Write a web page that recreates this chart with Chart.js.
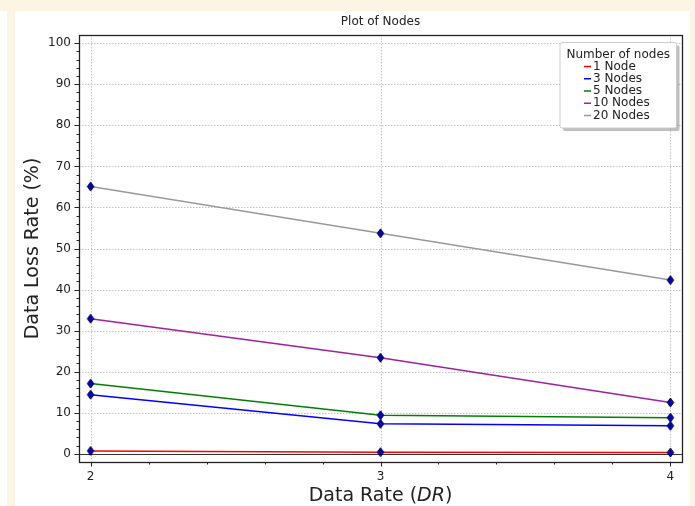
<!DOCTYPE html>
<html><head><meta charset="utf-8">
<script src="https://cdn.jsdelivr.net/npm/chart.js@4.4.0/dist/chart.umd.min.js"></script>
<style>
html,body{margin:0;padding:0;width:695px;height:506px;overflow:hidden;background:#fdf5e4;}
#panel{position:absolute;left:15px;top:11px;width:675px;height:495px;background:#fff;}
#strip{position:absolute;left:0;top:11px;width:7px;height:495px;background:#fff;}
#wrap{position:absolute;left:0;top:0;width:695px;height:506px;}
</style></head><body>
<div id="strip"></div><div id="panel"></div>
<div id="wrap"><canvas id="c" width="695" height="506"></canvas></div>
<script>
// ---- data ----
const dataRates = [2, 3, 4];
const seriesNames = ['1 Node', '3 Nodes', '5 Nodes', '10 Nodes', '20 Nodes'];
const node1  = [0.7, 0.4, 0.3];
const node3  = [14.4, 7.3, 6.8];
const node5  = [17.1, 9.4, 8.8];
const node10 = [32.9, 23.4, 12.5];
const node20 = [65.1, 53.7, 42.3];
const yTickLabels = [0, 10, 20, 30, 40, 50, 60, 70, 80, 90, 100];
const xTickLabels = [2, 3, 4];
const titleText = 'Plot of Nodes';
const legendTitle = 'Number of nodes';
const yAxisTitle = 'Data Loss Rate (%)';

const seriesValues = [node1, node3, node5, node10, node20];
const seriesColors = ['#ff0000', '#0000ff', '#008000', '#a020a0', '#999999'];

// diamond marker
function makeDiamond() {
  const cv = document.createElement('canvas');
  cv.width = 9; cv.height = 11;
  const g = cv.getContext('2d');
  g.beginPath();
  g.moveTo(4.5, 1); g.lineTo(7.8, 5.5); g.lineTo(4.5, 10); g.lineTo(1.2, 5.5); g.closePath();
  g.fillStyle = '#0000c8'; g.fill();
  g.strokeStyle = '#000'; g.lineWidth = 0.9; g.stroke();
  return cv;
}
const diamond = makeDiamond();

const datasets = seriesNames.map((n, i) => ({
  label: n,
  data: dataRates.map((x, j) => ({x: x, y: seriesValues[i][j]})),
  borderColor: seriesColors[i],
  backgroundColor: seriesColors[i],
  borderWidth: 1.5,
  pointStyle: diamond,
  pointRadius: 4,
  tension: 0,
  fill: false
}));

const FONT = "'DejaVu Sans', sans-serif";

const decor = {
  id: 'decor',
  beforeDatasetsDraw(chart) {
    const ctx = chart.ctx, a = chart.chartArea;
    const xs = chart.scales.x, ys = chart.scales.y;
    ctx.save();
    ctx.strokeStyle = '#bdbdbd';
    ctx.lineWidth = 0.9;
    ctx.setLineDash([1.5, 1.5]);
    yTickLabels.forEach(v => {
      const y = Math.round(ys.getPixelForValue(v)) + 0.5;
      ctx.beginPath(); ctx.moveTo(a.left, y); ctx.lineTo(a.right, y); ctx.stroke();
    });
    xTickLabels.forEach(v => {
      const x = Math.round(xs.getPixelForValue(v)) + 0.5;
      ctx.beginPath(); ctx.moveTo(x, a.top); ctx.lineTo(x, a.bottom); ctx.stroke();
    });
    ctx.setLineDash([]);
    // horizontal line at 0
    const y0 = Math.round(ys.getPixelForValue(0)) + 0.5;
    ctx.strokeStyle = '#333';
    ctx.lineWidth = 1;
    ctx.beginPath(); ctx.moveTo(a.left, y0); ctx.lineTo(a.right, y0); ctx.stroke();
    ctx.restore();
  },
  afterDraw(chart) {
    const ctx = chart.ctx, a = chart.chartArea;
    const xs = chart.scales.x, ys = chart.scales.y;
    ctx.save();
    // frame
    ctx.strokeStyle = '#222';
    ctx.lineWidth = 1.3;
    ctx.strokeRect(Math.round(a.left) + 0.5, Math.round(a.top) + 0.5,
                   Math.round(a.right - a.left), Math.round(a.bottom - a.top));
    // tick marks
    ctx.lineWidth = 1;
    ctx.strokeStyle = '#222';
    for (let v = 0; v <= 100; v += 2) {
      const y = Math.round(ys.getPixelForValue(v)) + 0.5;
      const len = (v % 10 === 0) ? 4.5 : 2.5;
      ctx.beginPath(); ctx.moveTo(a.left - len, y); ctx.lineTo(a.left, y); ctx.stroke();
    }
    for (let k = 0; k <= 10; k++) {
      const v = 2 + k * 0.2;
      const x = Math.round(xs.getPixelForValue(v)) + 0.5;
      const len = (k % 5 === 0) ? 4.5 : 2.5;
      ctx.beginPath(); ctx.moveTo(x, a.bottom); ctx.lineTo(x, a.bottom + len); ctx.stroke();
    }
    // title
    ctx.fillStyle = '#222';
    ctx.font = '12px ' + FONT;
    ctx.textAlign = 'center';
    ctx.textBaseline = 'middle';
    ctx.fillText(titleText, (a.left + a.right) / 2, 22);
    // x axis title with italic DR
    ctx.font = '19px ' + FONT;
    const p1 = 'Data Rate (', p3 = ')';
    const w1 = ctx.measureText(p1).width, w3 = ctx.measureText(p3).width;
    ctx.font = 'italic 19px ' + FONT;
    const w2 = ctx.measureText('DR').width;
    let sx = (a.left + a.right) / 2 - (w1 + w2 + w3) / 2;
    ctx.textAlign = 'left';
    ctx.font = '19px ' + FONT;
    ctx.fillText(p1, sx, 496);
    ctx.font = 'italic 19px ' + FONT;
    ctx.fillText('DR', sx + w1, 496);
    ctx.font = '19px ' + FONT;
    ctx.fillText(p3, sx + w1 + w2, 496);
    // y axis title
    ctx.save();
    ctx.translate(33, (a.top + a.bottom) / 2);
    ctx.rotate(-Math.PI / 2);
    ctx.textAlign = 'center';
    ctx.fillText(yAxisTitle, 0, 0);
    ctx.restore();
    // legend
    const lx = 560, ly = 42.5, lw = 116.5, lh = 85.5;
    function rr(x, y, w, h, r) {
      ctx.beginPath();
      ctx.moveTo(x + r, y); ctx.lineTo(x + w - r, y); ctx.quadraticCurveTo(x + w, y, x + w, y + r);
      ctx.lineTo(x + w, y + h - r); ctx.quadraticCurveTo(x + w, y + h, x + w - r, y + h);
      ctx.lineTo(x + r, y + h); ctx.quadraticCurveTo(x, y + h, x, y + h - r);
      ctx.lineTo(x, y + r); ctx.quadraticCurveTo(x, y, x + r, y); ctx.closePath();
    }
    rr(lx + 3, ly + 3, lw, lh, 2);
    ctx.fillStyle = 'rgba(0,0,0,0.25)'; ctx.fill();
    rr(lx, ly, lw, lh, 2);
    ctx.fillStyle = '#fff'; ctx.fill();
    ctx.strokeStyle = '#cccccc'; ctx.lineWidth = 1; ctx.stroke();
    ctx.fillStyle = '#222';
    ctx.font = '12px ' + FONT;
    ctx.textAlign = 'center';
    ctx.fillText(legendTitle, lx + lw / 2, 54.5);
    ctx.textAlign = 'left';
    chart.data.datasets.forEach((ds, i) => {
      const y = 66.5 + i * 12.25;
      ctx.strokeStyle = ds.borderColor; ctx.lineWidth = 1.5;
      ctx.beginPath(); ctx.moveTo(584, y); ctx.lineTo(591, y); ctx.stroke();
      ctx.fillStyle = '#222';
      ctx.fillText(ds.label, 593, y);
    });
    ctx.restore();
  }
};

new Chart(document.getElementById('c'), {
  type: 'line',
  data: {datasets: datasets},
  plugins: [decor],
  options: {
    responsive: false,
    animation: false,
    devicePixelRatio: 1,
    layout: {padding: {left: 0, top: 35, right: 13, bottom: 0}},
    plugins: {legend: {display: false}, tooltip: {enabled: false}, title: {display: false}},
    scales: {
      x: {
        type: 'linear', min: 1.96, max: 4.04,
        afterBuildTicks: s => { s.ticks = xTickLabels.map(v => ({value: v})); },
        afterFit: s => { s.height = 44; },
        grid: {display: true, drawOnChartArea: false, drawTicks: false, color: 'rgba(0,0,0,0)'},
        border: {display: false},
        ticks: {padding: 8, color: '#222', font: {family: FONT, size: 12}, maxRotation: 0,
                callback: v => String(v)}
      },
      y: {
        type: 'linear', min: -2, max: 102,
        afterBuildTicks: s => { s.ticks = yTickLabels.map(v => ({value: v})); },
        afterFit: s => { s.width = 79; },
        grid: {display: true, drawOnChartArea: false, drawTicks: false, color: 'rgba(0,0,0,0)'},
        border: {display: false},
        ticks: {padding: 8, color: '#222', font: {family: FONT, size: 12},
                callback: v => String(v)}
      }
    }
  }
});
</script>
</body></html>
